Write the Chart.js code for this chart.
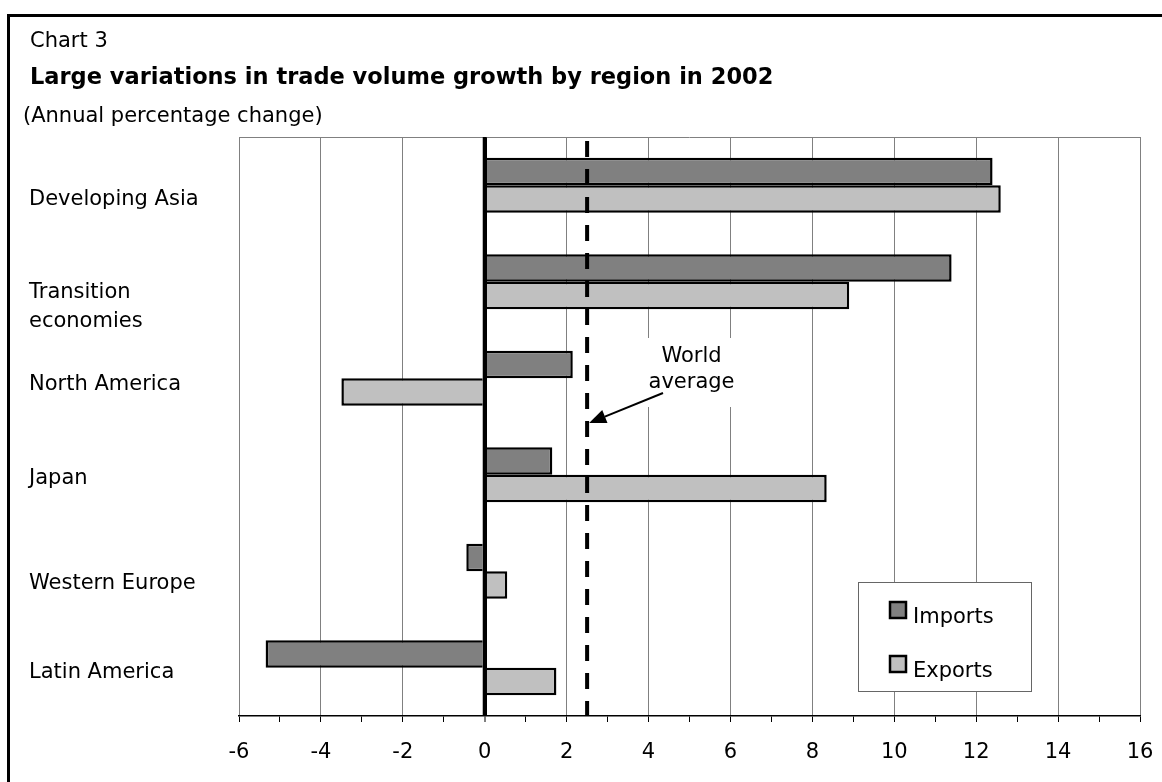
<!DOCTYPE html>
<html>
<head>
<meta charset="utf-8">
<script src="https://cdn.jsdelivr.net/npm/chart.js@4.4.1/dist/chart.umd.min.js"></script>
<style>
  body { margin: 0; background: #fff; }
  #wrap { position: relative; width: 1162px; height: 782px; overflow: hidden; font-family: "DejaVu Sans", Verdana, sans-serif; color: #000; }
  #frame { position: absolute; left: 7px; top: 14px; width: 1200px; height: 800px; border: 3px solid #000; }
  canvas { position: absolute; left: 0; top: 0; }
  .txt { position: absolute; left: 30px; font-size: 21px; line-height: 24px; white-space: nowrap; }
</style>
</head>
<body>
<div id="wrap">
  <div id="frame"></div>
  <canvas id="chart" width="1162" height="782"></canvas>
  <div class="txt" style="top:28px">Chart 3</div>
  <div class="txt" style="top:63px;font-weight:bold;font-size:22.5px;line-height:26px">Large variations in trade volume growth by region in 2002</div>
  <div class="txt" style="top:103px;left:23px">(Annual percentage change)</div>
</div>
<script>
// ==========================
// DATA
// ==========================
const regions = ["Developing Asia", ["Transition", "economies"], "North America", "Japan", "Western Europe", "Latin America"];
const imports = [12.4, 11.4, 2.15, 1.65, -0.45, -5.35];
const exportsData = [12.6, 8.9, -3.5, 8.35, 0.55, 1.75];
const worldAverage = 2.5;
const xMin = -6;
const xMax = 16;
const xStep = 2;

// label nudges (px) so region names sit where the original puts them
const labelNudge = [14, 25, 6, 4, 12, 5];

const FONT = '"DejaVu Sans", Verdana, sans-serif';
Chart.defaults.font.family = FONT;
Chart.defaults.font.size = 21;
Chart.defaults.color = "#000";

// ==========================
// OVERLAY (labels, zero line, world average, legend)
// ==========================
const overlay = {
  id: "overlay",
  afterDatasetsDraw(chart) {
    const { ctx, chartArea: a, scales: { x, y } } = chart;
    ctx.save();

    // top edge of plot
    ctx.strokeStyle = "#808080";
    ctx.lineWidth = 1;
    ctx.beginPath();
    ctx.moveTo(a.left, a.top + 0.5);
    ctx.lineTo(a.right, a.top + 0.5);
    ctx.stroke();

    // zero line
    const x0 = x.getPixelForValue(0);
    ctx.strokeStyle = "#000";
    ctx.lineWidth = 4;
    ctx.beginPath();
    ctx.moveTo(x0, a.top);
    ctx.lineTo(x0, a.bottom);
    ctx.stroke();

    // world average dashed line
    const xw = x.getPixelForValue(worldAverage);
    ctx.setLineDash([16, 12]);
    ctx.beginPath();
    ctx.moveTo(xw, a.top + 4);
    ctx.lineTo(xw, a.bottom);
    ctx.stroke();
    ctx.setLineDash([]);

    // region labels
    ctx.fillStyle = "#000";
    ctx.font = "21px " + FONT;
    ctx.textAlign = "left";
    ctx.textBaseline = "middle";
    chart.data.labels.forEach((lab, i) => {
      const lines = Array.isArray(lab) ? lab : [lab];
      const cy = y.getPixelForValue(i) + labelNudge[i];
      lines.forEach((ln, j) => {
        ctx.fillText(ln, 29, cy + (j - (lines.length - 1) / 2) * 29);
      });
    });

    // "World average" label
    const tx = x.getPixelForValue(5.05);
    ctx.fillStyle = "#fff";
    ctx.fillRect(tx - 46, 338, 92, 69);
    ctx.fillStyle = "#000";
    ctx.textAlign = "center";
    ctx.textBaseline = "alphabetic";
    ctx.fillText("World", tx, 362);
    ctx.fillText("average", tx, 388);

    // arrow
    const sx = 663, sy = 393;
    const ex = xw + 2, ey = 423;
    const dx = ex - sx, dy = ey - sy;
    const len = Math.hypot(dx, dy);
    const ux = dx / len, uy = dy / len;
    const bx = ex - ux * 17, by = ey - uy * 17;
    ctx.strokeStyle = "#000";
    ctx.lineWidth = 2;
    ctx.beginPath();
    ctx.moveTo(sx, sy);
    ctx.lineTo(bx, by);
    ctx.stroke();
    ctx.beginPath();
    ctx.moveTo(ex, ey);
    ctx.lineTo(bx - uy * 7, by + ux * 7);
    ctx.lineTo(bx + uy * 7, by - ux * 7);
    ctx.closePath();
    ctx.fill();

    // legend
    const lx = 858, ly = 582, lw = 173, lh = 109;
    ctx.fillStyle = "#fff";
    ctx.fillRect(lx, ly, lw, lh);
    ctx.strokeStyle = "#666";
    ctx.lineWidth = 1;
    ctx.strokeRect(lx + 0.5, ly + 0.5, lw, lh);
    ctx.textAlign = "left";
    chart.data.datasets.forEach((ds, i) => {
      const top = 601 + i * 54;
      ctx.fillStyle = ds.backgroundColor;
      ctx.fillRect(889, top, 18, 18);
      ctx.strokeStyle = "#000";
      ctx.lineWidth = 2.5;
      ctx.strokeRect(890, top + 1, 16, 16);
      ctx.fillStyle = "#000";
      ctx.fillText(ds.label, 913, top + 22);
    });

    ctx.restore();
  }
};

// ==========================
// CHART
// ==========================
const chart = new Chart(document.getElementById("chart"), {
  type: "bar",
  data: {
    labels: regions,
    datasets: [
      { label: "Imports", data: imports, backgroundColor: "#808080", borderColor: "#000", borderWidth: 2.5 },
      { label: "Exports", data: exportsData, backgroundColor: "#c0c0c0", borderColor: "#000", borderWidth: 2.5 }
    ]
  },
  options: {
    indexAxis: "y",
    responsive: false,
    animation: false,
    categoryPercentage: 0.57,
    barPercentage: 1.0,
    layout: { padding: { left: 29, right: 22, top: 137, bottom: 0 } },
    plugins: { legend: { display: false }, tooltip: { enabled: false } },
    scales: {
      x: {
        min: xMin,
        max: xMax,
        afterFit(s) {
          s.height = 66;
          s.paddingLeft = 0;
          s.paddingRight = 0;
        },
        ticks: {
          stepSize: 1,
          autoSkip: false,
          maxRotation: 0,
          padding: 18,
          callback: v => (v % xStep === 0 ? String(v) : "")
        },
        grid: {
          color: c => (c.tick.value === 0 ? "#000" : (c.tick.value % xStep !== 0 ? "rgba(0,0,0,0)" : "#808080")),
          lineWidth: c => (c.tick.value === 0 ? 4 : 1),
          tickColor: "#000",
          tickWidth: 1,
          tickLength: 6
        },
        border: { display: true, color: "#000", width: 1.5 }
      },
      y: {
        afterFit(s) { s.width = 210; },
        grid: { display: false },
        border: { display: false },
        ticks: { display: false }
      }
    }
  },
  plugins: [overlay]
});
</script>
</body>
</html>
